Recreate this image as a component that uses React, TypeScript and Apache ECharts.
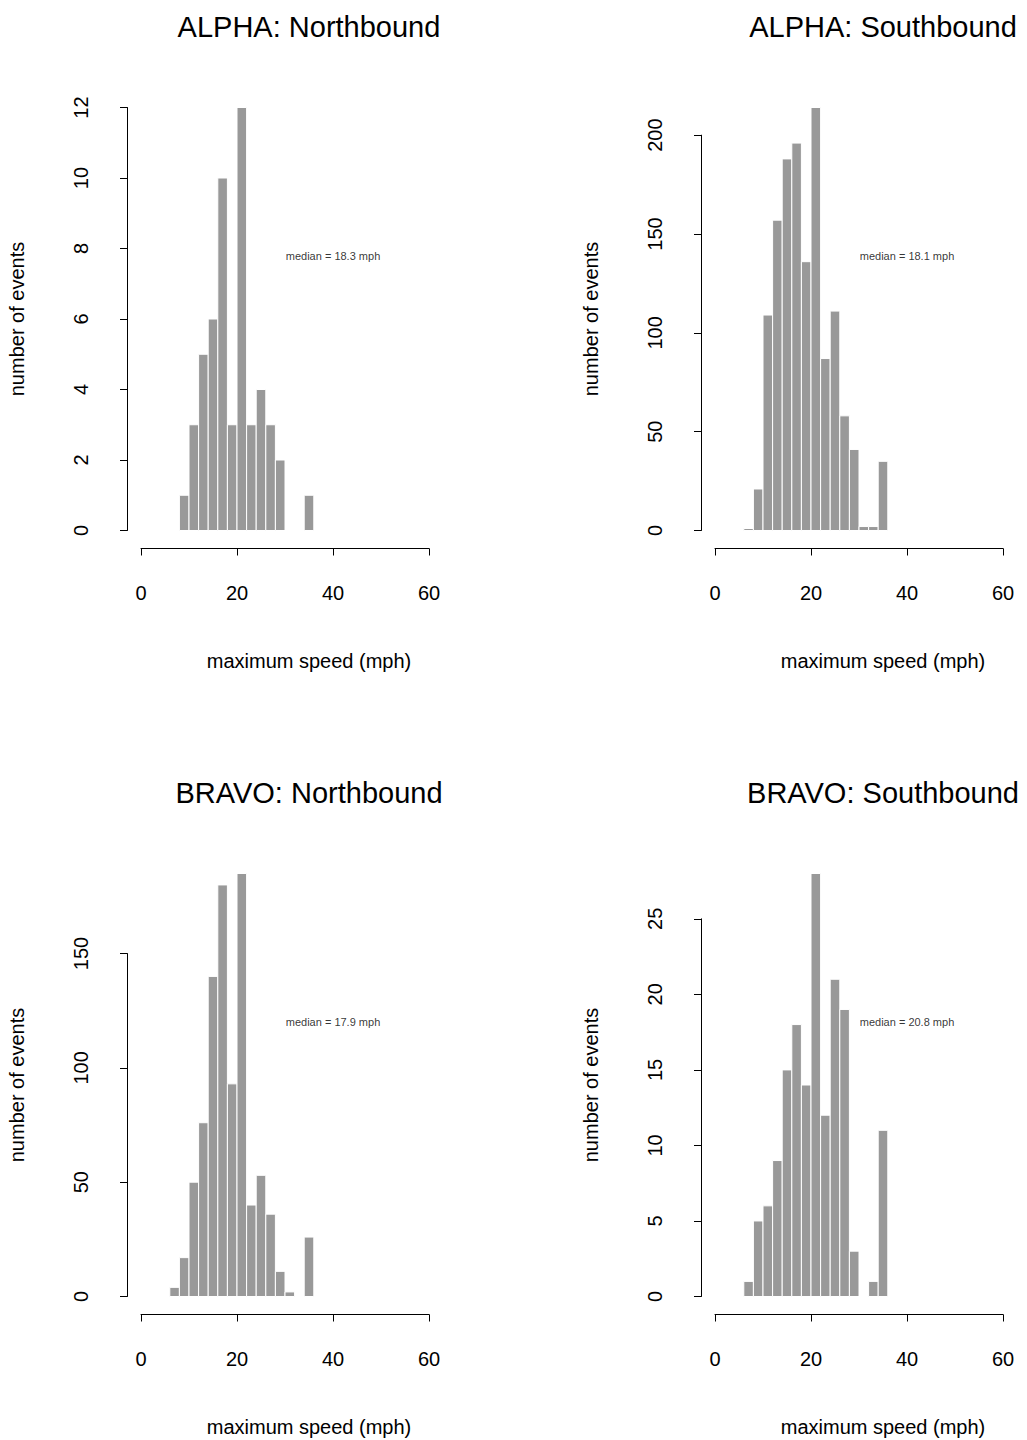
import React, { useEffect, useRef } from "react";
import * as echarts from "echarts";

// ---- data ----
const TITLES = ["ALPHA: Northbound", "ALPHA: Southbound", "BRAVO: Northbound", "BRAVO: Southbound"];
const MEDIANS = [18.3, 18.1, 17.9, 20.8];
const BIN_WIDTH = 2;
const BIN_STARTS = [8, 6, 6, 6];
const ALPHA_NORTH_COUNTS = [1, 3, 5, 6, 10, 3, 12, 3, 4, 3, 2, 0, 0, 1];
const ALPHA_SOUTH_COUNTS = [1, 21, 109, 157, 188, 196, 136, 214, 87, 111, 58, 41, 2, 2, 35];
const BRAVO_NORTH_COUNTS = [4, 17, 50, 76, 140, 180, 93, 185, 40, 53, 36, 11, 2, 0, 26];
const BRAVO_SOUTH_COUNTS = [1, 5, 6, 9, 15, 18, 14, 28, 12, 21, 19, 3, 0, 1, 11];
const COUNTS = [ALPHA_NORTH_COUNTS, ALPHA_SOUTH_COUNTS, BRAVO_NORTH_COUNTS, BRAVO_SOUTH_COUNTS];
const Y_TICK_STEPS = [2, 50, 50, 5];
const Y_TICK_MAX = [12, 200, 150, 25];
const X_TICK_STEP = 20;
const X_TICK_MAX = 60;
const X_LIMIT = 70;
const X_LABEL = "maximum speed (mph)";
const Y_LABEL = "number of events";
const MEDIAN_LABEL_X = 40;
const MEDIAN_LABEL_FRAC = 0.65;

// ---- layout ----
const FONT = "'Liberation Sans', Arial, Helvetica, sans-serif";
const X0 = 141; // pixel of x = 0 in first column
const BASE0 = 530.5; // pixel of y = 0 in first row
const COL_DX = 574;
const ROW_DY = 766;
const PX_PER_X = 4.8;
const PLOT_H = 423;
const CANVAS_W = 1160;

function buildOption() {
  const grid: any[] = [];
  const xAxis: any[] = [];
  const yAxis: any[] = [];
  const series: any[] = [];
  const title: any[] = [];
  const black = "#000";

  COUNTS.forEach((counts, i) => {
    const col = i % 2;
    const row = Math.floor(i / 2);
    const x0 = X0 + col * COL_DX;
    const base = BASE0 + row * ROW_DY;
    const maxCount = Math.max(...counts);
    const gA = 3 * i;
    const gB = 3 * i + 1;
    const gC = 3 * i + 2;
    const yAxisH = (PLOT_H * Y_TICK_MAX[i]) / maxCount;

    grid.push({ left: x0, top: base - PLOT_H, width: X_LIMIT * PX_PER_X, height: PLOT_H, containLabel: false });
    grid.push({ left: x0, top: base - PLOT_H, width: X_TICK_MAX * PX_PER_X, height: PLOT_H, containLabel: false });
    grid.push({ left: x0, top: base - yAxisH, width: X_LIMIT * PX_PER_X, height: yAxisH, containLabel: false });

    xAxis.push({
      type: "value", gridIndex: gA, min: 0, max: X_LIMIT,
      axisLine: { show: false, onZero: false }, axisTick: { show: false }, axisLabel: { show: false }, splitLine: { show: false },
      name: X_LABEL, nameLocation: "middle", nameGap: 120,
      nameTextStyle: { fontSize: 20, color: black, fontFamily: FONT },
    });
    yAxis.push({
      type: "value", gridIndex: gA, min: 0, max: maxCount,
      axisLine: { show: false, onZero: false }, axisTick: { show: false }, axisLabel: { show: false }, splitLine: { show: false },
      name: Y_LABEL, nameLocation: "middle", nameGap: 114, nameRotate: 90,
      nameTextStyle: { fontSize: 20, color: black, fontFamily: FONT },
    });

    xAxis.push({
      type: "value", gridIndex: gB, min: 0, max: X_TICK_MAX, interval: X_TICK_STEP, position: "bottom", offset: 18,
      axisLine: { show: true, onZero: false, lineStyle: { color: black, width: 1 } },
      axisTick: { show: true, length: 7, lineStyle: { color: black, width: 1 } },
      axisLabel: { show: true, margin: 34, fontSize: 20, color: black, fontFamily: FONT },
      splitLine: { show: false },
    });
    yAxis.push({ type: "value", gridIndex: gB, min: 0, max: 1, show: false, axisLine: { onZero: false } });

    xAxis.push({ type: "value", gridIndex: gC, min: 0, max: 1, show: false, axisLine: { onZero: false } });
    yAxis.push({
      type: "value", gridIndex: gC, min: 0, max: Y_TICK_MAX[i], interval: Y_TICK_STEPS[i], position: "left", offset: 14,
      axisLine: { show: true, onZero: false, lineStyle: { color: black, width: 1 } },
      axisTick: { show: true, length: 7, lineStyle: { color: black, width: 1 } },
      axisLabel: { show: true, rotate: 90, margin: 36, fontSize: 20, color: black, fontFamily: FONT },
      splitLine: { show: false },
    });

    const binData = counts
      .map((c, k) => [BIN_STARTS[i] + k * BIN_WIDTH, BIN_STARTS[i] + (k + 1) * BIN_WIDTH, c])
      .filter((d) => d[2] > 0);

    series.push({
      type: "custom", xAxisIndex: gA, yAxisIndex: gA, clip: false, silent: true,
      encode: { x: [0, 1], y: 2 },
      data: binData,
      renderItem: (params: any, api: any) => {
        const p1 = api.coord([api.value(0), api.value(2)]);
        const p2 = api.coord([api.value(1), 0]);
        return {
          type: "rect",
          shape: { x: p1[0], y: p1[1], width: p2[0] - p1[0], height: p2[1] - p1[1] },
          style: { fill: "#999999", stroke: "#ffffff", lineWidth: 1 },
        };
      },
    });

    series.push({
      type: "scatter", xAxisIndex: gA, yAxisIndex: gA, silent: true, symbolSize: 0,
      data: [[MEDIAN_LABEL_X, MEDIAN_LABEL_FRAC * maxCount]],
      label: {
        show: true, position: "inside", formatter: `median = ${MEDIANS[i].toFixed(1)} mph`,
        fontSize: 11, color: black, fontFamily: FONT,
      },
    });

    title.push({
      text: TITLES[i], left: x0 + (X_LIMIT / 2) * PX_PER_X, top: 12 + row * ROW_DY, textAlign: "center", padding: 0,
      textStyle: { fontSize: 29, fontWeight: "normal", color: black, fontFamily: FONT },
    });
  });

  return { animation: false, backgroundColor: "#ffffff", grid, xAxis, yAxis, series, title };
}

export default function App() {
  const ref = useRef<HTMLDivElement>(null);
  useEffect(() => {
    if (!ref.current) return;
    const chart = echarts.init(ref.current, undefined, { renderer: "svg" });
    chart.setOption(buildOption() as any);
    return () => chart.dispose();
  }, []);
  return (
    <div style={{ position: "absolute", left: 0, top: 0, width: 1027, height: 1440, overflow: "hidden", background: "#fff" }}>
      <div ref={ref} style={{ width: CANVAS_W, height: 1440 }} />
    </div>
  );
}
